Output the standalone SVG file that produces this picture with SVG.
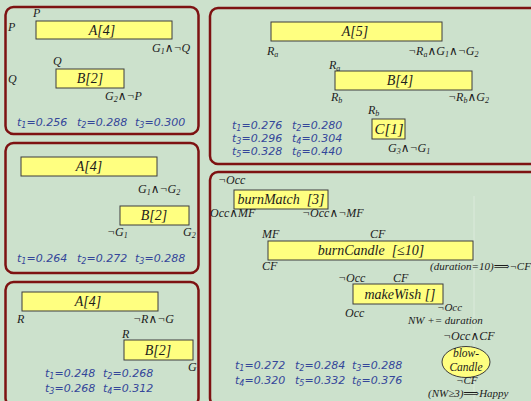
<svg xmlns="http://www.w3.org/2000/svg" width="531" height="401" viewBox="0 0 531 401">
  <style>
    .panel { fill: none; stroke: #7d1212; stroke-width: 2.5; }
    .bx { fill: #ffff80; stroke: #3c3c3c; stroke-width: 1; }
    .lb { font-family: "Liberation Serif", "DejaVu Serif", serif; font-style: italic; font-size: 12px; fill: #1c1c1c; }
    .nm { font-family: "Liberation Serif", "DejaVu Serif", serif; font-style: italic; font-size: 14px; fill: #1c1c1c; text-anchor: middle; }
    .ls { font-size: 8px; }
    .tv { font-family: "DejaVu Sans", "Liberation Sans", sans-serif; font-style: italic; font-size: 11px; fill: #34469a; }
    .ts { font-size: 8px; }
  </style>

  <!-- background -->
  <rect x="0" y="0" width="531" height="401" fill="#cce1cc"/>

  <!-- panel frames -->
  <g id="frames">
    <rect class="panel" x="5.5" y="7" width="193" height="127" rx="8"/>
    <rect class="panel" x="5.5" y="143" width="193" height="130" rx="8"/>
    <rect class="panel" x="5.5" y="282" width="193" height="124" rx="8"/>
    <rect class="panel" x="210" y="8" width="330" height="156" rx="8"/>
    <rect class="panel" x="210" y="172" width="330" height="234" rx="8"/>
    <line x1="474" y1="196" x2="474" y2="400" stroke="#dbeadb" stroke-width="1"/>
  </g>

  <g id="connectors"/>

  <!-- panel 1 -->
  <g id="p1-A">
    <rect class="bx" x="36" y="21" width="136" height="18"/>
    <text class="nm" x="102" y="35">A[4]</text>
    <text class="lb" x="8" y="31">P</text>
    <text class="lb" x="33" y="17">P</text>
    <text class="lb" x="152" y="52">G<tspan class="ls" dy="2">1</tspan><tspan dy="-2">∧¬Q</tspan></text>
  </g>
  <g id="p1-B">
    <rect class="bx" x="56" y="69" width="68" height="19"/>
    <text class="nm" x="90" y="83">B[2]</text>
    <text class="lb" x="53" y="65">Q</text>
    <text class="lb" x="8" y="83">Q</text>
    <text class="lb" x="105" y="100">G<tspan class="ls" dy="2">2</tspan><tspan dy="-2">∧¬P</tspan></text>
  </g>
  <g id="p1-times">
    <text class="tv" x="17" y="126">t<tspan class="ts" dy="2">1</tspan><tspan dy="-2">=0.256</tspan></text>
    <text class="tv" x="77" y="126">t<tspan class="ts" dy="2">2</tspan><tspan dy="-2">=0.288</tspan></text>
    <text class="tv" x="135" y="126">t<tspan class="ts" dy="2">3</tspan><tspan dy="-2">=0.300</tspan></text>
  </g>

  <!-- panel 2 -->
  <g id="p2-A">
    <rect class="bx" x="21" y="157" width="136" height="19"/>
    <text class="nm" x="89" y="171">A[4]</text>
    <text class="lb" x="138" y="193">G<tspan class="ls" dy="2">1</tspan><tspan dy="-2">∧¬G</tspan><tspan class="ls" dy="2">2</tspan></text>
  </g>
  <g id="p2-B">
    <rect class="bx" x="120" y="206" width="69" height="19"/>
    <text class="nm" x="154" y="220">B[2]</text>
    <text class="lb" x="107" y="236">¬G<tspan class="ls" dy="2">1</tspan></text>
    <text class="lb" x="183" y="236">G<tspan class="ls" dy="2">2</tspan></text>
  </g>
  <g id="p2-times">
    <text class="tv" x="17" y="262">t<tspan class="ts" dy="2">1</tspan><tspan dy="-2">=0.264</tspan></text>
    <text class="tv" x="77" y="262">t<tspan class="ts" dy="2">2</tspan><tspan dy="-2">=0.272</tspan></text>
    <text class="tv" x="135" y="262">t<tspan class="ts" dy="2">3</tspan><tspan dy="-2">=0.288</tspan></text>
  </g>

  <!-- panel 3 -->
  <g id="p3-A">
    <rect class="bx" x="22" y="292" width="136" height="19"/>
    <text class="nm" x="88" y="306">A[4]</text>
    <text class="lb" x="17" y="323">R</text>
    <text class="lb" x="133" y="323">¬R∧¬G</text>
  </g>
  <g id="p3-B">
    <rect class="bx" x="124" y="340" width="69" height="20"/>
    <text class="nm" x="158" y="355">B[2]</text>
    <text class="lb" x="122" y="338">R</text>
    <text class="lb" x="188" y="371">G</text>
  </g>
  <g id="p3-times">
    <text class="tv" x="45" y="377">t<tspan class="ts" dy="2">1</tspan><tspan dy="-2">=0.248</tspan></text>
    <text class="tv" x="103" y="377">t<tspan class="ts" dy="2">2</tspan><tspan dy="-2">=0.268</tspan></text>
    <text class="tv" x="45" y="392">t<tspan class="ts" dy="2">3</tspan><tspan dy="-2">=0.268</tspan></text>
    <text class="tv" x="103" y="392">t<tspan class="ts" dy="2">4</tspan><tspan dy="-2">=0.312</tspan></text>
  </g>

  <!-- panel 4 -->
  <g id="p4-A">
    <rect class="bx" x="271" y="22" width="171" height="19"/>
    <text class="nm" x="355" y="36">A[5]</text>
    <text class="lb" x="267" y="55">R<tspan class="ls" dy="2">a</tspan></text>
    <text class="lb" x="408" y="55">¬R<tspan class="ls" dy="2">a</tspan><tspan dy="-2">∧G</tspan><tspan class="ls" dy="2">1</tspan><tspan dy="-2">∧¬G</tspan><tspan class="ls" dy="2">2</tspan></text>
  </g>
  <g id="p4-B">
    <rect class="bx" x="335" y="71" width="137" height="19"/>
    <text class="nm" x="400" y="85">B[4]</text>
    <text class="lb" x="329" y="69">R<tspan class="ls" dy="2">a</tspan></text>
    <text class="lb" x="331" y="101">R<tspan class="ls" dy="2">b</tspan></text>
    <text class="lb" x="448" y="101">¬R<tspan class="ls" dy="2">b</tspan><tspan dy="-2">∧G</tspan><tspan class="ls" dy="2">2</tspan></text>
  </g>
  <g id="p4-C">
    <rect class="bx" x="372" y="119" width="33" height="20"/>
    <text class="nm" x="389" y="134" style="font-size:15px">C[1]</text>
    <text class="lb" x="368" y="114">R<tspan class="ls" dy="2">b</tspan></text>
    <text class="lb" x="388" y="152">G<tspan class="ls" dy="2">3</tspan><tspan dy="-2">∧¬G</tspan><tspan class="ls" dy="2">1</tspan></text>
  </g>
  <g id="p4-times">
    <text class="tv" x="232" y="129">t<tspan class="ts" dy="2">1</tspan><tspan dy="-2">=0.276</tspan></text>
    <text class="tv" x="292" y="129">t<tspan class="ts" dy="2">2</tspan><tspan dy="-2">=0.280</tspan></text>
    <text class="tv" x="232" y="142">t<tspan class="ts" dy="2">3</tspan><tspan dy="-2">=0.296</tspan></text>
    <text class="tv" x="292" y="142">t<tspan class="ts" dy="2">4</tspan><tspan dy="-2">=0.304</tspan></text>
    <text class="tv" x="232" y="155">t<tspan class="ts" dy="2">5</tspan><tspan dy="-2">=0.328</tspan></text>
    <text class="tv" x="292" y="155">t<tspan class="ts" dy="2">6</tspan><tspan dy="-2">=0.440</tspan></text>
  </g>

  <!-- panel 5 -->
  <g id="burnMatch">
    <rect class="bx" x="234" y="190" width="94" height="19"/>
    <text class="nm" x="281" y="204" xml:space="preserve">burnMatch  [3]</text>
    <text class="lb" x="218" y="184">¬Occ</text>
    <text class="lb" x="210" y="217">Occ∧MF</text>
    <text class="lb" x="302" y="217">¬Occ∧¬MF</text>
  </g>
  <g id="burnCandle">
    <rect class="bx" x="268" y="241" width="205" height="19"/>
    <text class="nm" x="371" y="255" xml:space="preserve">burnCandle  [≤10]</text>
    <text class="lb" x="262" y="238">MF</text>
    <text class="lb" x="370" y="238">CF</text>
    <text class="lb" x="262" y="270">CF</text>
    <text class="lb" x="430" y="270" style="font-size:11px">(duration=10)⟹¬CF</text>
  </g>
  <g id="makeWish">
    <rect class="bx" x="353" y="284" width="90" height="20"/>
    <text class="nm" x="400" y="299">makeWish []</text>
    <text class="lb" x="338" y="282">¬Occ</text>
    <text class="lb" x="393" y="282">CF</text>
    <text class="lb" x="345" y="317">Occ</text>
    <text class="lb" x="437" y="311" style="font-size:11px">¬Occ</text>
    <text class="lb" x="408" y="324" style="font-size:11px" xml:space="preserve">NW += duration</text>
  </g>
  <g id="blowCandle">
    <ellipse cx="466" cy="362" rx="24" ry="15.5" fill="#ffff80" stroke="#3c3c3c" stroke-width="1"/>
    <text class="nm" x="466" y="357" style="font-size:11.5px">blow-</text>
    <text class="nm" x="466" y="371" style="font-size:11.5px">Candle</text>
    <text class="lb" x="443" y="340">¬Occ∧CF</text>
    <text class="lb" x="456" y="384" style="font-size:11px">¬CF</text>
    <text class="lb" x="428" y="397" style="font-size:11px">(NW≥3)⟹Happy</text>
  </g>
  <g id="p5-times">
    <text class="tv" x="235" y="369">t<tspan class="ts" dy="2">1</tspan><tspan dy="-2">=0.272</tspan></text>
    <text class="tv" x="295" y="369">t<tspan class="ts" dy="2">2</tspan><tspan dy="-2">=0.284</tspan></text>
    <text class="tv" x="352" y="369">t<tspan class="ts" dy="2">3</tspan><tspan dy="-2">=0.288</tspan></text>
    <text class="tv" x="235" y="384">t<tspan class="ts" dy="2">4</tspan><tspan dy="-2">=0.320</tspan></text>
    <text class="tv" x="295" y="384">t<tspan class="ts" dy="2">5</tspan><tspan dy="-2">=0.332</tspan></text>
    <text class="tv" x="352" y="384">t<tspan class="ts" dy="2">6</tspan><tspan dy="-2">=0.376</tspan></text>
  </g>
</svg>
